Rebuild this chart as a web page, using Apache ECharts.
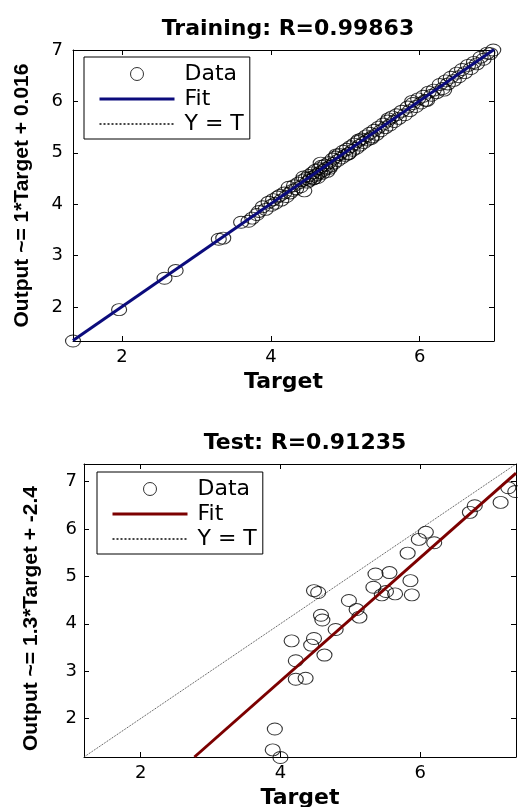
<!DOCTYPE html>
<html>
<head>
<meta charset="utf-8">
<script src="https://cdn.jsdelivr.net/npm/echarts@6/dist/echarts.min.js"></script>
<style>
html, body { margin: 0; padding: 0; background: #fff; }
#train { position: absolute; left: 0; top: 0; width: 518px; height: 403px; }
#test { position: absolute; left: 0; top: 403px; width: 518px; height: 404px; }
</style>
</head>
<body>
<div id="train"></div>
<div id="test"></div>
<script>
// training panel
const trainTarget = [1.34,1.96,2.57,2.72,3.30,3.36,3.60,3.70,3.75,3.81,3.84,3.89,3.93,3.97,4.01,4.03,4.06,4.09,4.12,4.14,4.18,4.21,4.24,4.26,4.29,4.31,4.34,4.37,4.40,4.42,4.45,4.47,4.49,4.51,4.52,4.54,4.56,4.57,4.59,4.60,4.62,4.63,4.65,4.66,4.68,4.69,4.71,4.73,4.74,4.76,4.78,4.80,4.83,4.85,4.87,4.90,4.92,4.95,4.97,5.00,5.02,5.05,5.07,5.10,5.12,5.15,5.17,5.20,5.22,5.25,5.28,5.30,5.33,5.36,5.39,5.42,5.45,5.48,5.51,5.54,5.57,5.60,5.63,5.66,5.69,5.72,5.76,5.80,5.84,5.87,5.91,5.95,5.98,6.02,6.05,6.08,6.12,6.16,6.19,6.23,6.27,6.31,6.35,6.38,6.42,6.46,6.50,6.53,6.57,6.61,6.65,6.69,6.73,6.77,6.82,6.86,6.91,6.95,6.99,4.44,4.58,4.67,4.79,4.88,5.04,5.18,5.35,5.58,5.90,6.10,6.33];
const trainOutput = [1.34,1.95,2.56,2.71,3.32,3.34,3.65,3.67,3.73,3.80,3.86,3.95,3.90,4.04,3.98,4.09,4.02,4.14,4.17,4.08,4.22,4.15,4.33,4.22,4.27,4.36,4.30,4.41,4.34,4.46,4.26,4.50,4.43,4.56,4.47,4.52,4.61,4.49,4.55,4.66,4.58,4.52,4.69,4.62,4.74,4.60,4.66,4.76,4.70,4.64,4.81,4.74,4.88,4.80,4.92,4.85,4.97,4.90,5.03,4.95,5.07,4.99,5.12,5.05,5.17,5.09,5.22,5.15,5.27,5.20,5.33,5.25,5.38,5.31,5.44,5.36,5.50,5.43,5.56,5.49,5.62,5.54,5.70,5.61,5.74,5.67,5.81,5.74,5.89,5.82,5.96,5.90,6.05,5.97,6.10,6.02,6.18,6.12,6.22,6.17,6.33,6.25,6.40,6.34,6.47,6.41,6.55,6.48,6.62,6.56,6.70,6.64,6.76,6.73,6.86,6.82,6.94,6.93,7.00,4.53,4.50,4.80,4.70,4.96,4.98,5.25,5.28,5.66,6.00,6.02,6.22];
const trainFitX = [1.34, 7.00];
const trainFitY = [1.35, 7.01];
const trainRange = [1.34, 7.00];

// test panel
const testTarget = [7.26,7.36,7.15,6.78,6.71,6.08,5.98,6.20,5.82,5.36,5.56,5.86,5.33,5.45,5.51,5.64,5.88,4.48,4.54,4.98,5.09,5.13,4.58,4.60,4.79,4.16,4.48,4.44,4.22,4.63,4.22,4.36,3.92,3.89,4.00];
const testOutput = [6.87,6.79,6.56,6.49,6.35,5.93,5.78,5.71,5.49,5.05,5.08,4.91,4.77,4.61,4.68,4.63,4.61,4.70,4.66,4.49,4.30,4.14,4.18,4.08,3.88,3.64,3.69,3.55,3.22,3.34,2.83,2.85,1.78,1.34,1.18];
const testFitX = [2.77, 7.37];
const testFitY = [1.19, 7.18];
const testRange = [1.19, 7.37];

const xTickValues = [2, 4, 6];
const yTickValues = [2, 3, 4, 5, 6, 7];

function pairs(xs, ys) {
    return xs.map((x, i) => [x, ys[i]]);
}

function makeOption(p) {
    const axisBase = {
        type: 'value',
        min: p.range[0],
        max: p.range[1],
        axisLine: { show: true, onZero: false, lineStyle: { color: '#000', width: 1 } },
        axisTick: { show: true, inside: true, length: 5, lineStyle: { color: '#000' } },
        splitLine: { show: false }
    };
    const labelStyle = { color: '#000', fontSize: 18, fontFamily: 'DejaVu Sans' };
    // hide the marker that echarts puts on line legend icons
    const noMarker = { color: 'rgba(0,0,0,0)', borderWidth: 0, opacity: 0 };
    return {
        animation: false,
        backgroundColor: '#fff',
        title: {
            text: p.title,
            left: p.titleX,
            top: p.titleTop,
            textAlign: 'center',
            textStyle: { fontFamily: 'DejaVu Sans', fontWeight: 'bold', fontSize: 22, color: '#000' }
        },
        grid: {
            left: p.grid[0], right: p.grid[1], top: p.grid[2], bottom: p.grid[3],
            outerBoundsMode: 'none'
        },
        legend: {
            orient: 'vertical',
            left: p.legendPos[0],
            top: p.legendPos[1],
            padding: [6, 6, 4, 14],
            itemGap: 3,
            itemWidth: 75,
            itemHeight: 13,
            backgroundColor: '#fff',
            borderColor: '#000',
            borderWidth: 1,
            selectedMode: false,
            itemStyle: { borderWidth: 1 },
            textStyle: { fontFamily: 'DejaVu Sans', fontSize: 22, color: '#000', padding: [0, 0, 0, 5] },
            data: [
                'Data',
                { name: 'Fit', itemStyle: noMarker, lineStyle: { width: 3 } },
                { name: 'Y = T', itemStyle: noMarker }
            ]
        },
        xAxis: [
            Object.assign({}, axisBase, {
                position: 'bottom',
                axisTick: Object.assign({}, axisBase.axisTick, { customValues: xTickValues }),
                axisLabel: Object.assign({ customValues: xTickValues, margin: 7 }, labelStyle),
                name: 'Target',
                nameLocation: 'middle',
                nameGap: p.xNameGap,
                nameTextStyle: { fontFamily: 'DejaVu Sans', fontWeight: 'bold', fontSize: 22, color: '#000' }
            }),
            Object.assign({}, axisBase, {
                position: 'top',
                axisTick: Object.assign({}, axisBase.axisTick, { customValues: xTickValues }),
                axisLabel: { show: false }
            })
        ],
        yAxis: [
            Object.assign({}, axisBase, {
                position: 'left',
                axisTick: Object.assign({}, axisBase.axisTick, { customValues: yTickValues }),
                axisLabel: Object.assign({ customValues: yTickValues, margin: p.yLabelMargin }, labelStyle),
                name: p.yName,
                nameLocation: 'middle',
                nameRotate: 90,
                nameGap: p.yNameGap,
                nameTextStyle: {
                    fontFamily: 'Liberation Sans', fontWeight: 'bold', fontSize: 21, color: '#000',
                    padding: p.yNamePad
                }
            }),
            Object.assign({}, axisBase, {
                position: 'right',
                axisTick: Object.assign({}, axisBase.axisTick, { customValues: yTickValues }),
                axisLabel: { show: false }
            })
        ],
        series: [
            {
                name: 'Data',
                type: 'scatter',
                symbol: 'circle',
                symbolSize: [15, 12],
                clip: false,
                data: p.points,
                itemStyle: { color: 'rgba(0,0,0,0)', borderColor: '#000', borderWidth: 1 },
                z: 2
            },
            {
                name: 'Fit',
                type: 'line',
                data: p.fit,
                symbol: 'none',
                lineStyle: { color: p.fitColor, width: 3 },
                itemStyle: { color: p.fitColor },
                z: 3
            },
            {
                name: 'Y = T',
                type: 'line',
                data: pairs(p.range, p.range),
                symbol: 'none',
                lineStyle: { color: '#444', width: 1, type: 'dotted' },
                itemStyle: { color: '#444' },
                z: 1
            }
        ]
    };
}

var trainChart = echarts.init(document.getElementById('train'));
trainChart.setOption(makeOption({
    title: 'Training: R=0.99863',
    titleX: 283,
    titleTop: 13,
    grid: [73, 24, 50, 62],
    legendPos: [84, 57],
    range: trainRange,
    xNameGap: 26,
    yName: 'Output ~= 1*Target + 0.016',
    yNameGap: 40,
    yNamePad: [0, 0, 0, 0],
    yLabelMargin: 10,
    points: pairs(trainTarget, trainOutput),
    fit: pairs(trainFitX, trainFitY),
    fitColor: '#0b0b7c'
}));

var testChart = echarts.init(document.getElementById('test'));
testChart.setOption(makeOption({
    title: 'Test: R=0.91235',
    titleX: 300,
    titleTop: 24,
    grid: [84, 2, 61, 50],
    legendPos: [97, 69],
    range: testRange,
    xNameGap: 23,
    yName: 'Output ~= 1.3*Target + -2.4',
    yNameGap: 42,
    yNamePad: [0, 16, 0, 0],
    yLabelMargin: 7,
    points: pairs(testTarget, testOutput),
    fit: pairs(testFitX, testFitY),
    fitColor: '#7c0000'
}));
</script>
</body>
</html>
